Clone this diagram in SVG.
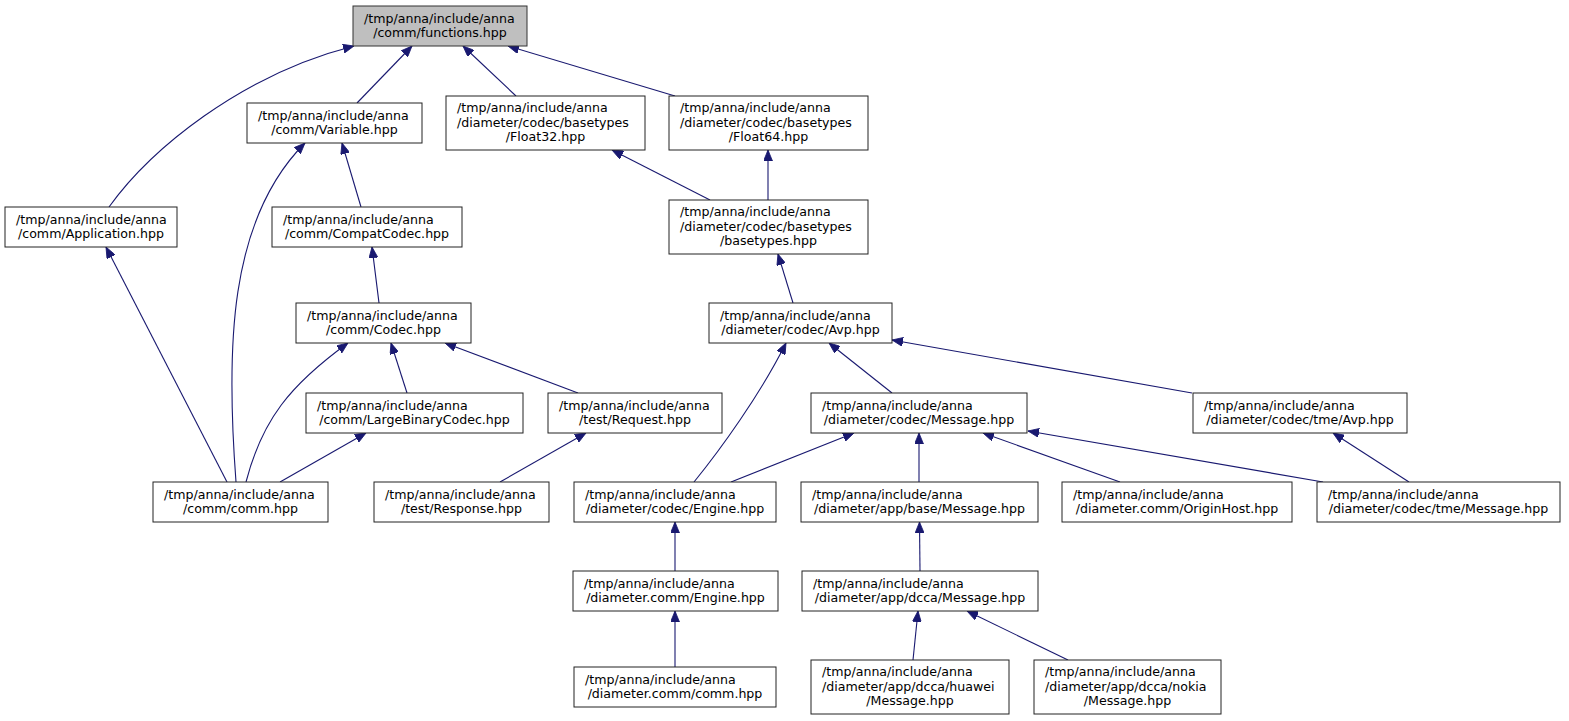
<svg xmlns="http://www.w3.org/2000/svg" width="1569" height="721" viewBox="0 0 1569 721">
<style>
.bg{fill:#fff}
.box{fill:#fff;stroke:#222;stroke-width:1}
.cur{fill:#bfbfbf;stroke:#333;stroke-width:1}
text{font-family:"DejaVu Sans",sans-serif;font-size:12.6px;fill:#000}
.c{text-anchor:middle}
.e{fill:none;stroke:#191970;stroke-width:1.1;marker-end:url(#ah)}
</style>
<defs>
<marker id="ah" viewBox="0 0 11 9" refX="11" refY="4.5" markerWidth="11" markerHeight="9" markerUnits="userSpaceOnUse" orient="auto">
<path d="M0,0 L11,4.5 L0,9 z" fill="#191970" stroke="#191970" stroke-width="0.8"/>
</marker>
</defs>
<rect class="bg" x="0" y="0" width="1569" height="721"/>
<g id="connectors">
<path class="e" d="M109,207 C150,150 240,75 354,46"/>
<path class="e" d="M357,103 L412,46"/>
<path class="e" d="M516,96 L463,46"/>
<path class="e" d="M675,96 L508,46"/>
<path class="e" d="M236,482 C226,350 228,220 305,143"/>
<path class="e" d="M361,207 L342,143"/>
<path class="e" d="M710,200 L612,150"/>
<path class="e" d="M768,200 L768,150"/>
<path class="e" d="M379,303 L372,247"/>
<path class="e" d="M793,303 L778,254"/>
<path class="e" d="M227,482 L106,247"/>
<path class="e" d="M246,482 C262,420 290,385 348,343"/>
<path class="e" d="M280,482 L366,433"/>
<path class="e" d="M407,393 L391,343"/>
<path class="e" d="M578,393 L445,343"/>
<path class="e" d="M500,482 L586,433"/>
<path class="e" d="M694,482 C720,450 760,395 786,343"/>
<path class="e" d="M892,393 L829,343"/>
<path class="e" d="M1192,393 L892,340"/>
<path class="e" d="M731,482 L854,433"/>
<path class="e" d="M919,482 L919,433"/>
<path class="e" d="M1120,482 L983,433"/>
<path class="e" d="M1323,482 L1028,431"/>
<path class="e" d="M1409,482 L1333,433"/>
<path class="e" d="M675,571 L675,522"/>
<path class="e" d="M920,571 L919.5,522"/>
<path class="e" d="M675,667 L675,611"/>
<path class="e" d="M913,660 L918,611"/>
<path class="e" d="M1068,660 L967,611"/>
</g>
<g id="n_functions"><rect class="cur" x="353" y="6" width="174" height="40"/><text x="364" y="22.5">/tmp/anna/include/anna</text><text class="c" x="440" y="37">/comm/functions.hpp</text></g>
<g id="n_application"><rect class="box" x="5" y="207" width="172" height="40"/><text x="16" y="223.5">/tmp/anna/include/anna</text><text class="c" x="91" y="238">/comm/Application.hpp</text></g>
<g id="n_variable"><rect class="box" x="247" y="103" width="175" height="40"/><text x="258" y="119.5">/tmp/anna/include/anna</text><text class="c" x="334.5" y="134">/comm/Variable.hpp</text></g>
<g id="n_float32"><rect class="box" x="446" y="96" width="199" height="54"/><text x="457" y="112">/tmp/anna/include/anna</text><text x="457" y="126.5">/diameter/codec/basetypes</text><text class="c" x="545.5" y="141">/Float32.hpp</text></g>
<g id="n_float64"><rect class="box" x="669" y="96" width="199" height="54"/><text x="680" y="112">/tmp/anna/include/anna</text><text x="680" y="126.5">/diameter/codec/basetypes</text><text class="c" x="768.5" y="141">/Float64.hpp</text></g>
<g id="n_compatcodec"><rect class="box" x="272" y="207" width="190" height="40"/><text x="283" y="223.5">/tmp/anna/include/anna</text><text class="c" x="367" y="238">/comm/CompatCodec.hpp</text></g>
<g id="n_basetypes"><rect class="box" x="669" y="200" width="199" height="54"/><text x="680" y="216">/tmp/anna/include/anna</text><text x="680" y="230.5">/diameter/codec/basetypes</text><text class="c" x="768.5" y="245">/basetypes.hpp</text></g>
<g id="n_codec"><rect class="box" x="296" y="303" width="175" height="40"/><text x="307" y="319.5">/tmp/anna/include/anna</text><text class="c" x="383.5" y="334">/comm/Codec.hpp</text></g>
<g id="n_avp"><rect class="box" x="709" y="303" width="183" height="40"/><text x="720" y="319.5">/tmp/anna/include/anna</text><text class="c" x="800.5" y="334">/diameter/codec/Avp.hpp</text></g>
<g id="n_largebinarycodec"><rect class="box" x="306" y="393" width="217" height="40"/><text x="317" y="409.5">/tmp/anna/include/anna</text><text class="c" x="414.5" y="424">/comm/LargeBinaryCodec.hpp</text></g>
<g id="n_request"><rect class="box" x="548" y="393" width="174" height="40"/><text x="559" y="409.5">/tmp/anna/include/anna</text><text class="c" x="635" y="424">/test/Request.hpp</text></g>
<g id="n_codecmessage"><rect class="box" x="811" y="393" width="216" height="40"/><text x="822" y="409.5">/tmp/anna/include/anna</text><text class="c" x="919" y="424">/diameter/codec/Message.hpp</text></g>
<g id="n_tmeavp"><rect class="box" x="1193" y="393" width="214" height="40"/><text x="1204" y="409.5">/tmp/anna/include/anna</text><text class="c" x="1300" y="424">/diameter/codec/tme/Avp.hpp</text></g>
<g id="n_comm"><rect class="box" x="153" y="482" width="175" height="40"/><text x="164" y="498.5">/tmp/anna/include/anna</text><text class="c" x="240.5" y="513">/comm/comm.hpp</text></g>
<g id="n_response"><rect class="box" x="374" y="482" width="175" height="40"/><text x="385" y="498.5">/tmp/anna/include/anna</text><text class="c" x="461.5" y="513">/test/Response.hpp</text></g>
<g id="n_codecengine"><rect class="box" x="574" y="482" width="202" height="40"/><text x="585" y="498.5">/tmp/anna/include/anna</text><text class="c" x="675" y="513">/diameter/codec/Engine.hpp</text></g>
<g id="n_basemessage"><rect class="box" x="801" y="482" width="237" height="40"/><text x="812" y="498.5">/tmp/anna/include/anna</text><text class="c" x="919.5" y="513">/diameter/app/base/Message.hpp</text></g>
<g id="n_originhost"><rect class="box" x="1062" y="482" width="230" height="40"/><text x="1073" y="498.5">/tmp/anna/include/anna</text><text class="c" x="1177" y="513">/diameter.comm/OriginHost.hpp</text></g>
<g id="n_tmemessage"><rect class="box" x="1317" y="482" width="243" height="40"/><text x="1328" y="498.5">/tmp/anna/include/anna</text><text class="c" x="1438.5" y="513">/diameter/codec/tme/Message.hpp</text></g>
<g id="n_dcommengine"><rect class="box" x="573" y="571" width="205" height="40"/><text x="584" y="587.5">/tmp/anna/include/anna</text><text class="c" x="675.5" y="602">/diameter.comm/Engine.hpp</text></g>
<g id="n_dccamessage"><rect class="box" x="802" y="571" width="236" height="40"/><text x="813" y="587.5">/tmp/anna/include/anna</text><text class="c" x="920" y="602">/diameter/app/dcca/Message.hpp</text></g>
<g id="n_dcommcomm"><rect class="box" x="574" y="667" width="202" height="40"/><text x="585" y="683.5">/tmp/anna/include/anna</text><text class="c" x="675" y="698">/diameter.comm/comm.hpp</text></g>
<g id="n_huawei"><rect class="box" x="811" y="660" width="198" height="54"/><text x="822" y="676">/tmp/anna/include/anna</text><text x="822" y="690.5">/diameter/app/dcca/huawei</text><text class="c" x="910" y="705">/Message.hpp</text></g>
<g id="n_nokia"><rect class="box" x="1034" y="660" width="187" height="54"/><text x="1045" y="676">/tmp/anna/include/anna</text><text x="1045" y="690.5">/diameter/app/dcca/nokia</text><text class="c" x="1127.5" y="705">/Message.hpp</text></g>
</svg>
